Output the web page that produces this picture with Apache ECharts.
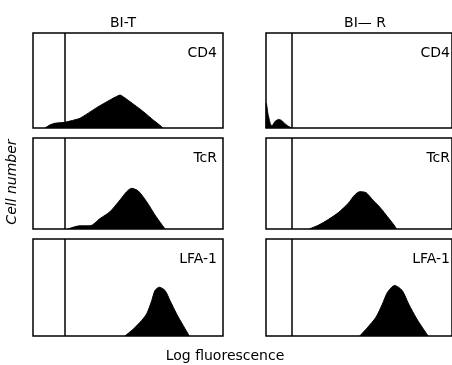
<!DOCTYPE html>
<html>
<head>
<meta charset="utf-8">
<script src="https://cdn.jsdelivr.net/npm/echarts@6/dist/echarts.min.js"></script>
<style>
html,body{margin:0;padding:0;background:#fff;}
#c{width:452px;height:365px;}
</style>
</head>
<body>
<div id="c"></div>
<script>
// Column titles and row (marker) labels
const columnTitles = ['BI-T', 'BI\u2014 R'];
const rowLabels = ['CD4', 'TcR', 'LFA-1'];
const xAxisTitle = 'Log fluorescence';
const yAxisTitle = 'Cell number';

// Gate (negative-control cutoff) position per column, % of log-fluorescence range
const gates = [16.8, 13.7];

// Histograms: [log fluorescence (% of range), cell number (% of panel max)]
const biT_CD4 = [[6.3,0],[8.9,3.2],[11.6,5.0],[16.8,6.0],[24.7,10.2],[33.5,21.4],[40.5,29.5],[45.8,34.7],[51.1,27.7],[58.1,17.2],[63.3,8.4],[67.7,1.4],[68.4,0]];
const biT_TcR = [[18.4,0],[22.1,2.5],[24.7,3.5],[30.0,3.5],[35.3,11.5],[40.5,19],[45.8,31.9],[49.3,41],[51.9,44.7],[55.4,41.8],[59.8,30],[64.2,15.4],[67.7,5.1],[69.5,0]];
const biT_LFA1 = [[48.4,0],[52.8,7.2],[56.3,14.1],[59.8,22.7],[62.5,36.6],[64.2,46.9],[66.5,50.3],[69.5,46.9],[72.1,36.6],[75.6,22.7],[79.1,10.6],[82.3,0]];
const biR_CD4 = [[0,0],[0.2,26],[1.05,15],[2.3,4.5],[3.2,2],[4.9,7],[6.7,9],[8.4,8],[10.2,4.5],[11.9,2],[13.7,0]];
const biR_TcR = [[23.2,0],[28.4,4.4],[33.7,10.7],[38.9,18],[44.2,28.2],[47.7,37.4],[50.4,41],[53.8,39.9],[57.4,31.9],[61.7,22.8],[65.3,13.5],[68.8,4.4],[70.2,0]];
const biR_LFA1 = [[50.4,0],[54.7,9.0],[59.1,19.3],[62.6,33.0],[65.3,45.0],[69.1,52.1],[73.2,47.0],[76.7,33.0],[81.1,17.5],[84.6,7.2],[87.2,0]];

const histograms = [[biT_CD4, biT_TcR, biT_LFA1], [biR_CD4, biR_TcR, biR_LFA1]];

// Layout
const colLeft = [33, 266];
const colWidth = 190;
const rowTop = [33, 138, 239];
const rowHeight = [95, 91, 97];
const FONT = '"DejaVu Sans", "Liberation Sans", Arial, sans-serif';

const grids = [], xAxes = [], yAxes = [], series = [], graphics = [];
let idx = 0;
for (let c = 0; c < 2; c++) {
  for (let r = 0; r < 3; r++) {
    grids.push({left: colLeft[c], top: rowTop[r], width: colWidth, height: rowHeight[r],
      show: true, borderColor: '#000', borderWidth: 1.5, backgroundColor: '#fff', containLabel: false});
    xAxes.push({type: 'value', gridIndex: idx, min: 0, max: 100, show: false});
    yAxes.push({type: 'value', gridIndex: idx, min: 0, max: 100, show: false});
    series.push({
      type: 'line', xAxisIndex: idx, yAxisIndex: idx, data: histograms[c][r],
      smooth: (r === 0 ? 0.12 : 0.25), showSymbol: false, silent: true,
      lineStyle: {color: '#000', width: 1}, areaStyle: {color: '#000', opacity: 1},
      markLine: {silent: true, symbol: 'none', label: {show: false},
        lineStyle: {color: '#000', width: 1.5, type: 'solid'},
        data: [{xAxis: gates[c]}]}
    });
    graphics.push({type: 'text', x: colLeft[c] + colWidth - 6, y: rowTop[r] + 20,
      style: {text: rowLabels[r], font: '14px ' + FONT, fill: '#000', textAlign: 'right', textVerticalAlign: 'middle'}});
    idx++;
  }
}

graphics.push({type: 'text', x: 123, y: 23, style: {text: columnTitles[0], font: '14px ' + FONT, fill: '#000', textAlign: 'center', textVerticalAlign: 'middle'}});
graphics.push({type: 'text', x: 365, y: 23, style: {text: columnTitles[1], font: '14px ' + FONT, fill: '#000', textAlign: 'center', textVerticalAlign: 'middle'}});
graphics.push({type: 'text', x: 225, y: 356, style: {text: xAxisTitle, font: '14px ' + FONT, fill: '#000', textAlign: 'center', textVerticalAlign: 'middle'}});
graphics.push({type: 'text', x: 12, y: 182, rotation: Math.PI / 2,
  style: {text: yAxisTitle, font: 'oblique 14px ' + FONT, fill: '#000', textAlign: 'center', textVerticalAlign: 'middle'}});

const chart = echarts.init(document.getElementById('c'), null, {renderer: 'canvas'});
chart.setOption({
  animation: false,
  backgroundColor: '#fff',
  grid: grids, xAxis: xAxes, yAxis: yAxes, series: series,
  graphic: graphics
});
</script>
</body>
</html>
